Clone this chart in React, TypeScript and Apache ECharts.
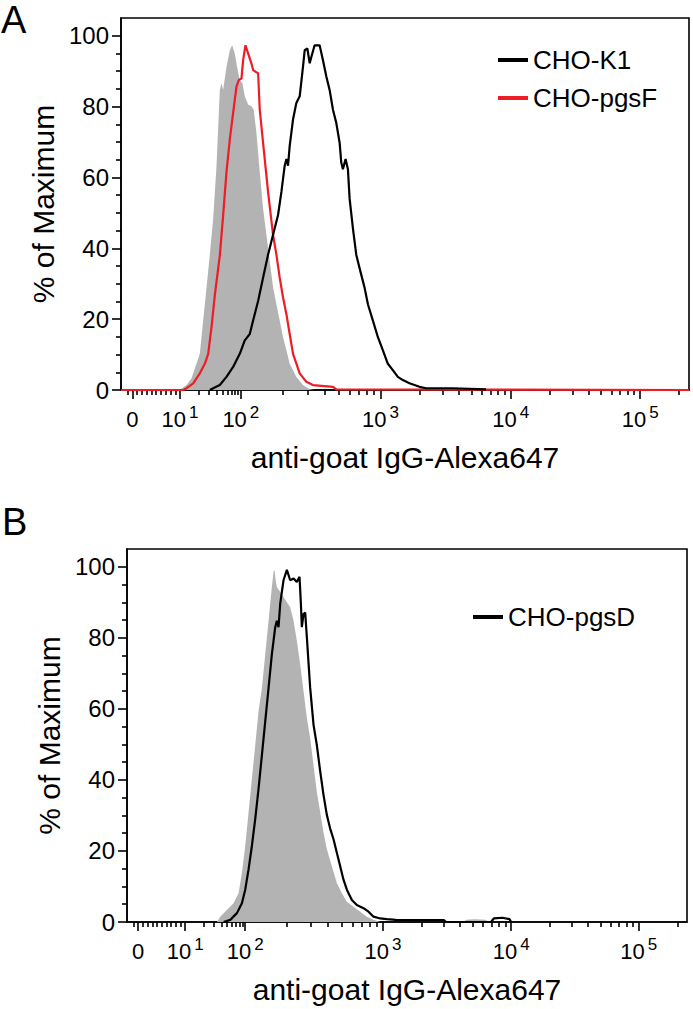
import React, { useEffect, useRef } from "react";
import * as echarts from "echarts";

// ---- axis definitions (display channels 0..1000 of the biexponential axis) ----
const decadeLabels = ["0", "10{s|1}", "10{s|2}", "10{s|3}", "10{s|4}", "10{s|5}"];
const decadeChannels = [20, 104, 211, 457, 686, 914];
const yMajorTicks = [0, 20, 40, 60, 80, 100];
const yMinorTicks = [5, 10, 15, 25, 30, 35, 45, 50, 55, 65, 70, 75, 85, 90, 95];

const xTitle = "anti-goat IgG-Alexa647";
const yTitle = "% of Maximum";

// ---- panel A: [channel, % of max] ----
const aControl: [number, number][] = [
  [103.7, 0], [115.4, 1.4], [124.2, 3.3], [138.8, 10.2], [144.7, 19.6], [150.6, 28.9],
  [156.4, 38.2], [162.3, 48.4], [168.1, 63.1], [174.0, 84.7], [176.9, 86.6], [179.8, 84.7],
  [185.7, 91.2], [191.6, 95.9], [195.7, 97.3], [200.4, 95.0], [204.4, 91.2], [209.1, 87.5],
  [213.8, 86.6], [217.9, 82.9], [223.8, 80.6], [229.6, 80.1], [233.7, 79.1], [238.4, 72.6],
  [244.3, 61.5], [250.1, 51.2], [256.0, 43.8], [261.9, 36.3], [267.7, 29.1], [273.6, 24.2],
  [279.4, 19.6], [285.3, 14.9], [291.2, 11.2], [297.0, 7.4], [302.9, 5.6], [308.7, 3.7],
  [320.4, 1.4], [332.2, 0.2], [340, 0],
];
const aPgsF: [number, number][] = [
  [0, 0], [109.5, 0], [115.4, 0.5], [127.1, 1.9], [138.8, 4.7], [147.6, 7.4], [153.5, 10.2],
  [159.3, 17.7], [165.2, 26.8], [174.0, 38.0], [179.8, 49.2], [185.7, 61.5], [191.6, 70.8],
  [197.4, 78.2], [203.3, 85.6], [207.4, 87.5], [212.1, 87.9], [215.0, 93.1], [219.1, 97.3],
  [223.8, 95.0], [229.6, 92.2], [232.6, 90.3], [237.3, 89.8], [241.4, 89.4], [244.3, 79.1],
  [250.1, 69.8], [258.9, 55.9], [267.7, 43.8], [273.6, 38.2], [279.4, 31.7], [285.3, 26.1],
  [291.2, 21.4], [297.0, 15.8], [302.9, 10.2], [314.6, 4.7], [326.3, 2.3], [338.0, 1.4],
  [373.2, 0.9], [379.0, 0.2], [1000, 0],
];
const aK1: [number, number][] = [
  [156.4, 0], [162.3, 0.5], [174.0, 1.4], [185.7, 3.7], [197.4, 6.5], [209.1, 10.2],
  [217.9, 14.0], [226.7, 15.8], [232.6, 19.6], [241.4, 25.1], [250.1, 31.7], [258.9, 38.2],
  [267.7, 43.8], [276.5, 49.4], [282.4, 55.9], [288.2, 63.3], [291.2, 65.2], [294.1, 63.3],
  [297.0, 68.9], [302.9, 76.4], [308.7, 81.0], [314.6, 82.9], [320.4, 91.2], [323.4, 95.9],
  [328.1, 96.4], [332.2, 92.2], [335.1, 94.0], [340.9, 97.3], [349.7, 97.3], [355.6, 93.1],
  [361.5, 88.5], [367.3, 84.7], [373.2, 79.1], [379.0, 75.4], [384.9, 69.8], [387.8, 64.2],
  [390.7, 62.3], [395.4, 65.2], [399.5, 62.3], [402.5, 54.0], [408.3, 45.6], [414.2, 38.2],
  [420.0, 34.4], [428.8, 28.9], [434.7, 24.2], [443.5, 19.6], [452.3, 14.9], [461.1, 11.2],
  [469.8, 7.4], [478.6, 5.6], [487.4, 3.7], [496.2, 2.8], [507.9, 1.9], [525.5, 0.9],
  [537.2, 0.5], [584.1, 0.5], [642.6, 0.2],
];

// ---- panel B ----
const bControl: [number, number][] = [
  [160.7, 0], [166.5, 1.5], [178.4, 3.4], [190.3, 5.3], [199.2, 8.1], [205.2, 13.8],
  [211.1, 21.4], [217.1, 30.9], [223.0, 40.3], [229.0, 49.8], [234.9, 59.3], [240.9, 65.9],
  [243.9, 70.6], [249.8, 80.1], [252.8, 84.8], [255.7, 89.6], [258.7, 94.3], [261.7, 98.6],
  [263.5, 99.1], [265.3, 96.4], [267.6, 94.3], [273.6, 92.9], [279.5, 91.5], [285.5, 90.0],
  [291.4, 88.6], [297.4, 84.8], [303.3, 79.2], [309.3, 72.5], [315.2, 65.0], [321.2, 57.4],
  [327.1, 51.7], [333.1, 44.1], [339.0, 36.6], [345.0, 30.9], [350.9, 25.2], [356.9, 20.5],
  [365.8, 15.7], [374.7, 11.0], [383.7, 8.1], [392.6, 5.7], [404.5, 4.3], [416.4, 2.9],
  [428.3, 1.5], [440.2, 0.6], [452.1, 0], [600, 0], [606, 0.6], [620, 0.8], [640, 0.6], [648, 0],
];
const bPgsD: [number, number][] = [
  [172.5, 0], [184.4, 0.6], [196.3, 2.5], [205.2, 5.3], [211.1, 9.1], [217.1, 14.8],
  [223.0, 21.4], [229.0, 29.0], [234.9, 37.5], [240.9, 47.0], [246.8, 56.4], [252.8, 65.9],
  [258.7, 75.4], [264.7, 83.0], [267.6, 84.8], [270.6, 83.0], [273.6, 89.6], [279.5, 96.2],
  [285.5, 99.1], [291.4, 96.2], [297.4, 96.7], [303.3, 95.7], [308.1, 97.2], [310.5, 89.6],
  [312.2, 83.0], [315.2, 86.7], [318.2, 87.1], [321.2, 80.1], [327.1, 65.9], [333.1, 55.5],
  [339.0, 49.8], [345.0, 42.4], [350.9, 35.8], [356.9, 30.1], [362.8, 26.3], [368.8, 23.3],
  [374.7, 19.5], [380.7, 15.7], [386.6, 11.9], [392.6, 9.1], [401.5, 6.2], [410.4, 4.8],
  [422.3, 3.9], [431.3, 2.9], [440.2, 1.5], [452.1, 1.0], [464.0, 0.8], [480, 0.6],
  [520, 0.5], [566, 0.5], [570, 0], [650, 0], [655, 1.0], [670, 1.2], [683, 0.8], [686, 0],
];

const FONT = "'Liberation Sans', Arial, Helvetica, sans-serif";
const BLACK = "#000000";
const RED = "#ee1c24";
const GRAY = "#b3b3b3";

function minorChannels(): number[] {
  const out: number[] = [];
  const c0 = decadeChannels[0];
  const c1 = decadeChannels[1];
  for (let m = -1; m <= 9; m++) if (m !== 0) out.push(c0 + ((c1 - c0) * m) / 10);
  for (let k = 1; k < decadeChannels.length; k++) {
    const a = decadeChannels[k];
    const b = k + 1 < decadeChannels.length ? decadeChannels[k + 1] : a + (a - decadeChannels[k - 1]);
    for (let m = 2; m <= 9; m++) {
      const v = a + (b - a) * Math.log10(m);
      if (v <= 1000) out.push(v);
    }
  }
  return out;
}

function decadeLabel(v: number): string {
  for (let i = 0; i < decadeChannels.length; i++) {
    if (Math.abs(decadeChannels[i] - v) < 1e-6) return decadeLabels[i];
  }
  return "";
}

const axisLine = { show: true, onZero: false, lineStyle: { color: BLACK, width: 1.6 } };

function xAxes(gridIndex: number) {
  return [
    {
      type: "value", gridIndex, min: 0, max: 1000, position: "bottom",
      axisLine,
      axisTick: { show: true, customValues: decadeChannels, length: 9, lineStyle: { color: BLACK, width: 1.6 } },
      axisLabel: {
        show: true, customValues: decadeChannels, formatter: (v: number) => decadeLabel(v),
        color: BLACK, fontFamily: FONT, fontSize: 22, lineHeight: 30, margin: 14,
        rich: { s: { fontSize: 17, lineHeight: 14, verticalAlign: "top", padding: [0, 0, 0, 3], color: BLACK, fontFamily: FONT } },
      },
      splitLine: { show: false },
      name: xTitle, nameLocation: "middle", nameGap: 52,
      nameTextStyle: { color: BLACK, fontFamily: FONT, fontSize: 30 },
    },
    {
      type: "value", gridIndex, min: 0, max: 1000, position: "bottom",
      axisLine: { show: false },
      axisTick: { show: true, customValues: minorChannels(), length: 5, lineStyle: { color: BLACK, width: 1.6 } },
      axisLabel: { show: false },
      splitLine: { show: false },
    },
  ];
}

function yAxes(gridIndex: number) {
  return [
    {
      type: "value", gridIndex, min: 0, max: 105, position: "left",
      axisLine,
      axisTick: { show: true, customValues: yMajorTicks, length: 9, lineStyle: { color: BLACK, width: 1.6 } },
      axisLabel: { show: true, customValues: yMajorTicks, color: BLACK, fontFamily: FONT, fontSize: 24, margin: 12 },
      splitLine: { show: false },
      name: yTitle, nameLocation: "middle", nameGap: 60,
      nameTextStyle: { color: BLACK, fontFamily: FONT, fontSize: 30 },
    },
    {
      type: "value", gridIndex, min: 0, max: 105, position: "left",
      axisLine: { show: false },
      axisTick: { show: true, customValues: yMinorTicks, length: 5, lineStyle: { color: BLACK, width: 1.6 } },
      axisLabel: { show: false },
      splitLine: { show: false },
    },
  ];
}

function fillSeries(name: string, data: [number, number][], axis: number) {
  return {
    type: "line", name, xAxisIndex: axis, yAxisIndex: axis, data,
    symbol: "none", showSymbol: false, silent: true, z: 1,
    lineStyle: { width: 0, color: GRAY }, itemStyle: { color: GRAY },
    areaStyle: { color: GRAY, opacity: 1 },
  };
}

function lineSeries(name: string, data: [number, number][], axis: number, color: string, z: number) {
  return {
    type: "line", name, xAxisIndex: axis, yAxisIndex: axis, data,
    symbol: "none", showSymbol: false, silent: true, z,
    lineStyle: { width: 2.2, color }, itemStyle: { color },
  };
}

export default function App() {
  const ref = useRef<HTMLDivElement>(null);
  useEffect(() => {
    if (!ref.current) return;
    const chart = echarts.init(ref.current, undefined, { renderer: "svg" });
    chart.setOption({
      animation: false,
      backgroundColor: "#ffffff",
      textStyle: { fontFamily: FONT },
      grid: [
        { left: 121, top: 18, width: 568, height: 372, show: true, borderColor: BLACK, borderWidth: 1.6, backgroundColor: "transparent" },
        { left: 127, top: 549, width: 560, height: 373, show: true, borderColor: BLACK, borderWidth: 1.6, backgroundColor: "transparent" },
      ],
      xAxis: [...xAxes(0), ...xAxes(1)],
      yAxis: [...yAxes(0), ...yAxes(1)],
      legend: [
        {
          data: ["CHO-K1", "CHO-pgsF"], left: 498, top: 47, orient: "vertical", padding: 0,
          icon: "rect", itemWidth: 30, itemHeight: 4, itemGap: 12,
          textStyle: { color: BLACK, fontFamily: FONT, fontSize: 26 },
        },
        {
          data: ["CHO-pgsD"], left: 473, top: 604, orient: "vertical", padding: 0,
          icon: "rect", itemWidth: 30, itemHeight: 4,
          textStyle: { color: BLACK, fontFamily: FONT, fontSize: 26 },
        },
      ],
      graphic: [
        { type: "text", left: 1, top: 1, style: { text: "A", fontSize: 38, fontFamily: FONT, fill: BLACK } },
        { type: "text", left: 2, top: 503, style: { text: "B", fontSize: 38, fontFamily: FONT, fill: BLACK } },
      ],
      series: [
        fillSeries("A control", aControl, 0),
        lineSeries("CHO-pgsF", aPgsF, 0, RED, 3),
        lineSeries("CHO-K1", aK1, 0, BLACK, 4),
        fillSeries("B control", bControl, 2),
        lineSeries("CHO-pgsD", bPgsD, 2, BLACK, 4),
      ],
    });
    return () => chart.dispose();
  }, []);
  return (
    <div
      ref={ref}
      style={{ position: "absolute", left: 0, top: 0, width: 693, height: 1009, background: "#fff" }}
    />
  );
}
